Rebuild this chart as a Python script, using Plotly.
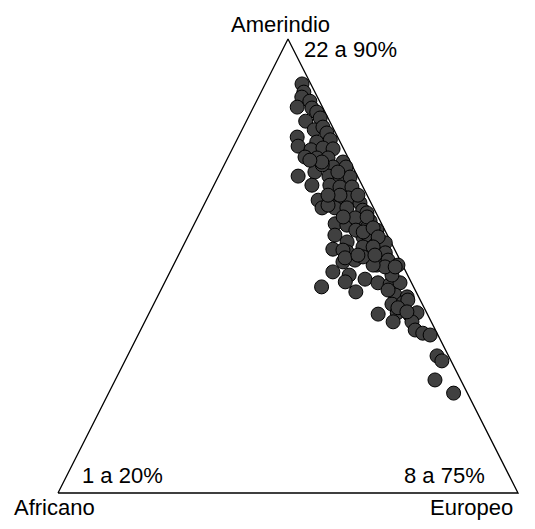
import plotly.graph_objects as go

# Ancestry proportions (%) per individual: Amerindio / Europeo / Africano
amerindio = [
    90.1, 88.3, 87.2, 85.0, 86.3, 84.8, 83.9, 81.9, 82.6, 80.0,
    80.6, 78.4, 79.3, 77.3, 77.8, 76.4, 75.6, 76.0, 75.8, 74.0,
    73.8, 73.8, 72.9, 71.8, 71.8, 69.8, 70.7, 69.8, 69.6, 69.6,
    67.8, 67.8, 67.4, 67.4, 64.5, 65.0, 64.5, 65.0, 63.9, 65.6,
    62.8, 62.8, 62.8, 62.3, 59.3, 59.0, 59.5, 61.7, 59.9, 60.6,
    60.8, 56.8, 55.3, 56.4, 57.9, 56.8, 58.4, 53.7, 53.1, 54.2,
    54.6, 55.1, 52.0, 52.9, 50.9, 51.3, 50.2, 51.3, 50.2, 48.7,
    48.0, 46.5, 45.4, 44.3, 47.1, 46.3, 46.0, 46.3, 48.0, 49.8,
    43.6, 43.2, 44.7, 41.6, 41.9, 39.4, 39.7, 39.2, 37.7, 39.7,
    37.7, 35.9, 35.2, 34.8, 30.2, 29.1, 24.9, 22.0, 63.4, 65.6,
    65.6, 70.7, 57.9, 53.5, 51.8, 42.5, 40.8, 39.9, 50.2, 52.0,
    49.8, 72.3, 72.9, 73.3, 60.8, 57.5, 58.4, 56.4, 54.2, 52.4,
    52.4,
]
europeo = [
    8.0, 9.3, 9.4, 9.5, 11.6, 12.8, 14.3, 12.9, 15.7, 15.7,
    17.3, 12.8, 18.8, 17.6, 20.3, 14.0, 17.2, 19.6, 21.9, 16.7,
    19.4, 21.8, 25.5, 23.9, 26.7, 17.3, 20.5, 24.0, 26.5, 28.7,
    21.3, 25.2, 27.6, 30.2, 24.3, 26.6, 28.6, 30.6, 33.7, 32.4,
    26.0, 28.8, 31.4, 35.1, 30.6, 33.3, 35.5, 36.3, 37.9, 34.3,
    31.6, 31.8, 35.2, 38.1, 40.4, 39.0, 38.0, 32.9, 36.3, 39.2,
    41.6, 43.6, 41.8, 44.7, 36.5, 38.9, 44.2, 46.1, 48.8, 35.4,
    39.3, 39.2, 34.6, 42.6, 43.2, 46.4, 49.2, 51.2, 48.6, 46.2,
    51.5, 54.3, 49.4, 51.8, 54.1, 49.9, 53.9, 56.9, 54.0, 58.2,
    58.1, 59.7, 61.7, 63.5, 67.3, 68.9, 69.5, 75.0, 27.0, 28.5,
    25.9, 25.5, 35.8, 35.2, 36.5, 54.8, 53.5, 55.9, 43.4, 40.3,
    48.4, 21.3, 20.9, 18.1, 36.8, 37.6, 39.3, 41.4, 41.4, 39.0,
    42.7,
]
africano = [round(100 - a - e, 1) for a, e in zip(amerindio, europeo)]

vertex_names = ["Africano", "Europeo", "Amerindio"]
range_labels = ["1 a 20%", "8 a 75%", "22 a 90%"]

# Barycentric projection: Africano at (0,0), Europeo at (1,0), Amerindio at (0.5,1)
px = [e / 100 + a / 200 for a, e in zip(amerindio, europeo)]
py = [a / 100 for a in amerindio]

fig = go.Figure()

# Triangle frame
fig.add_trace(go.Scatter(
    x=[0, 1, 0.5, 0], y=[0, 0, 1, 0],
    mode="lines", line=dict(color="black", width=1.3),
    hoverinfo="skip", showlegend=False,
))

fig.add_trace(go.Scatter(
    x=px, y=py, mode="markers",
    marker=dict(size=14, color="#404040", line=dict(color="black", width=1)),
    customdata=list(zip(amerindio, europeo, africano)),
    hovertemplate="Amerindio %{customdata[0]}%<br>Europeo %{customdata[1]}%"
                  "<br>Africano %{customdata[2]}%<extra></extra>",
    showlegend=False,
))

font = dict(family="Liberation Sans, Arial, sans-serif", size=22, color="black")
annotations = [
    dict(x=-0.0076, y=-0.032, text=vertex_names[0]),
    dict(x=0.899, y=-0.032, text=vertex_names[1]),
    dict(x=0.4826, y=1.033, text=vertex_names[2]),
    dict(x=0.140, y=0.0396, text=range_labels[0]),
    dict(x=0.840, y=0.0396, text=range_labels[1]),
    dict(x=0.6348, y=0.976, text=range_labels[2]),
]
for ann in annotations:
    ann.update(xref="x", yref="y", showarrow=False, font=font,
               xanchor="center", yanchor="middle")

fig.update_layout(
    width=535, height=529,
    margin=dict(l=0, r=0, t=0, b=0),
    paper_bgcolor="white", plot_bgcolor="white",
    xaxis=dict(range=[-0.12609, 1.03696], visible=False, fixedrange=True),
    yaxis=dict(range=[-0.07930, 1.08590], visible=False, fixedrange=True),
    annotations=annotations,
)

fig.write_html("out.html")
